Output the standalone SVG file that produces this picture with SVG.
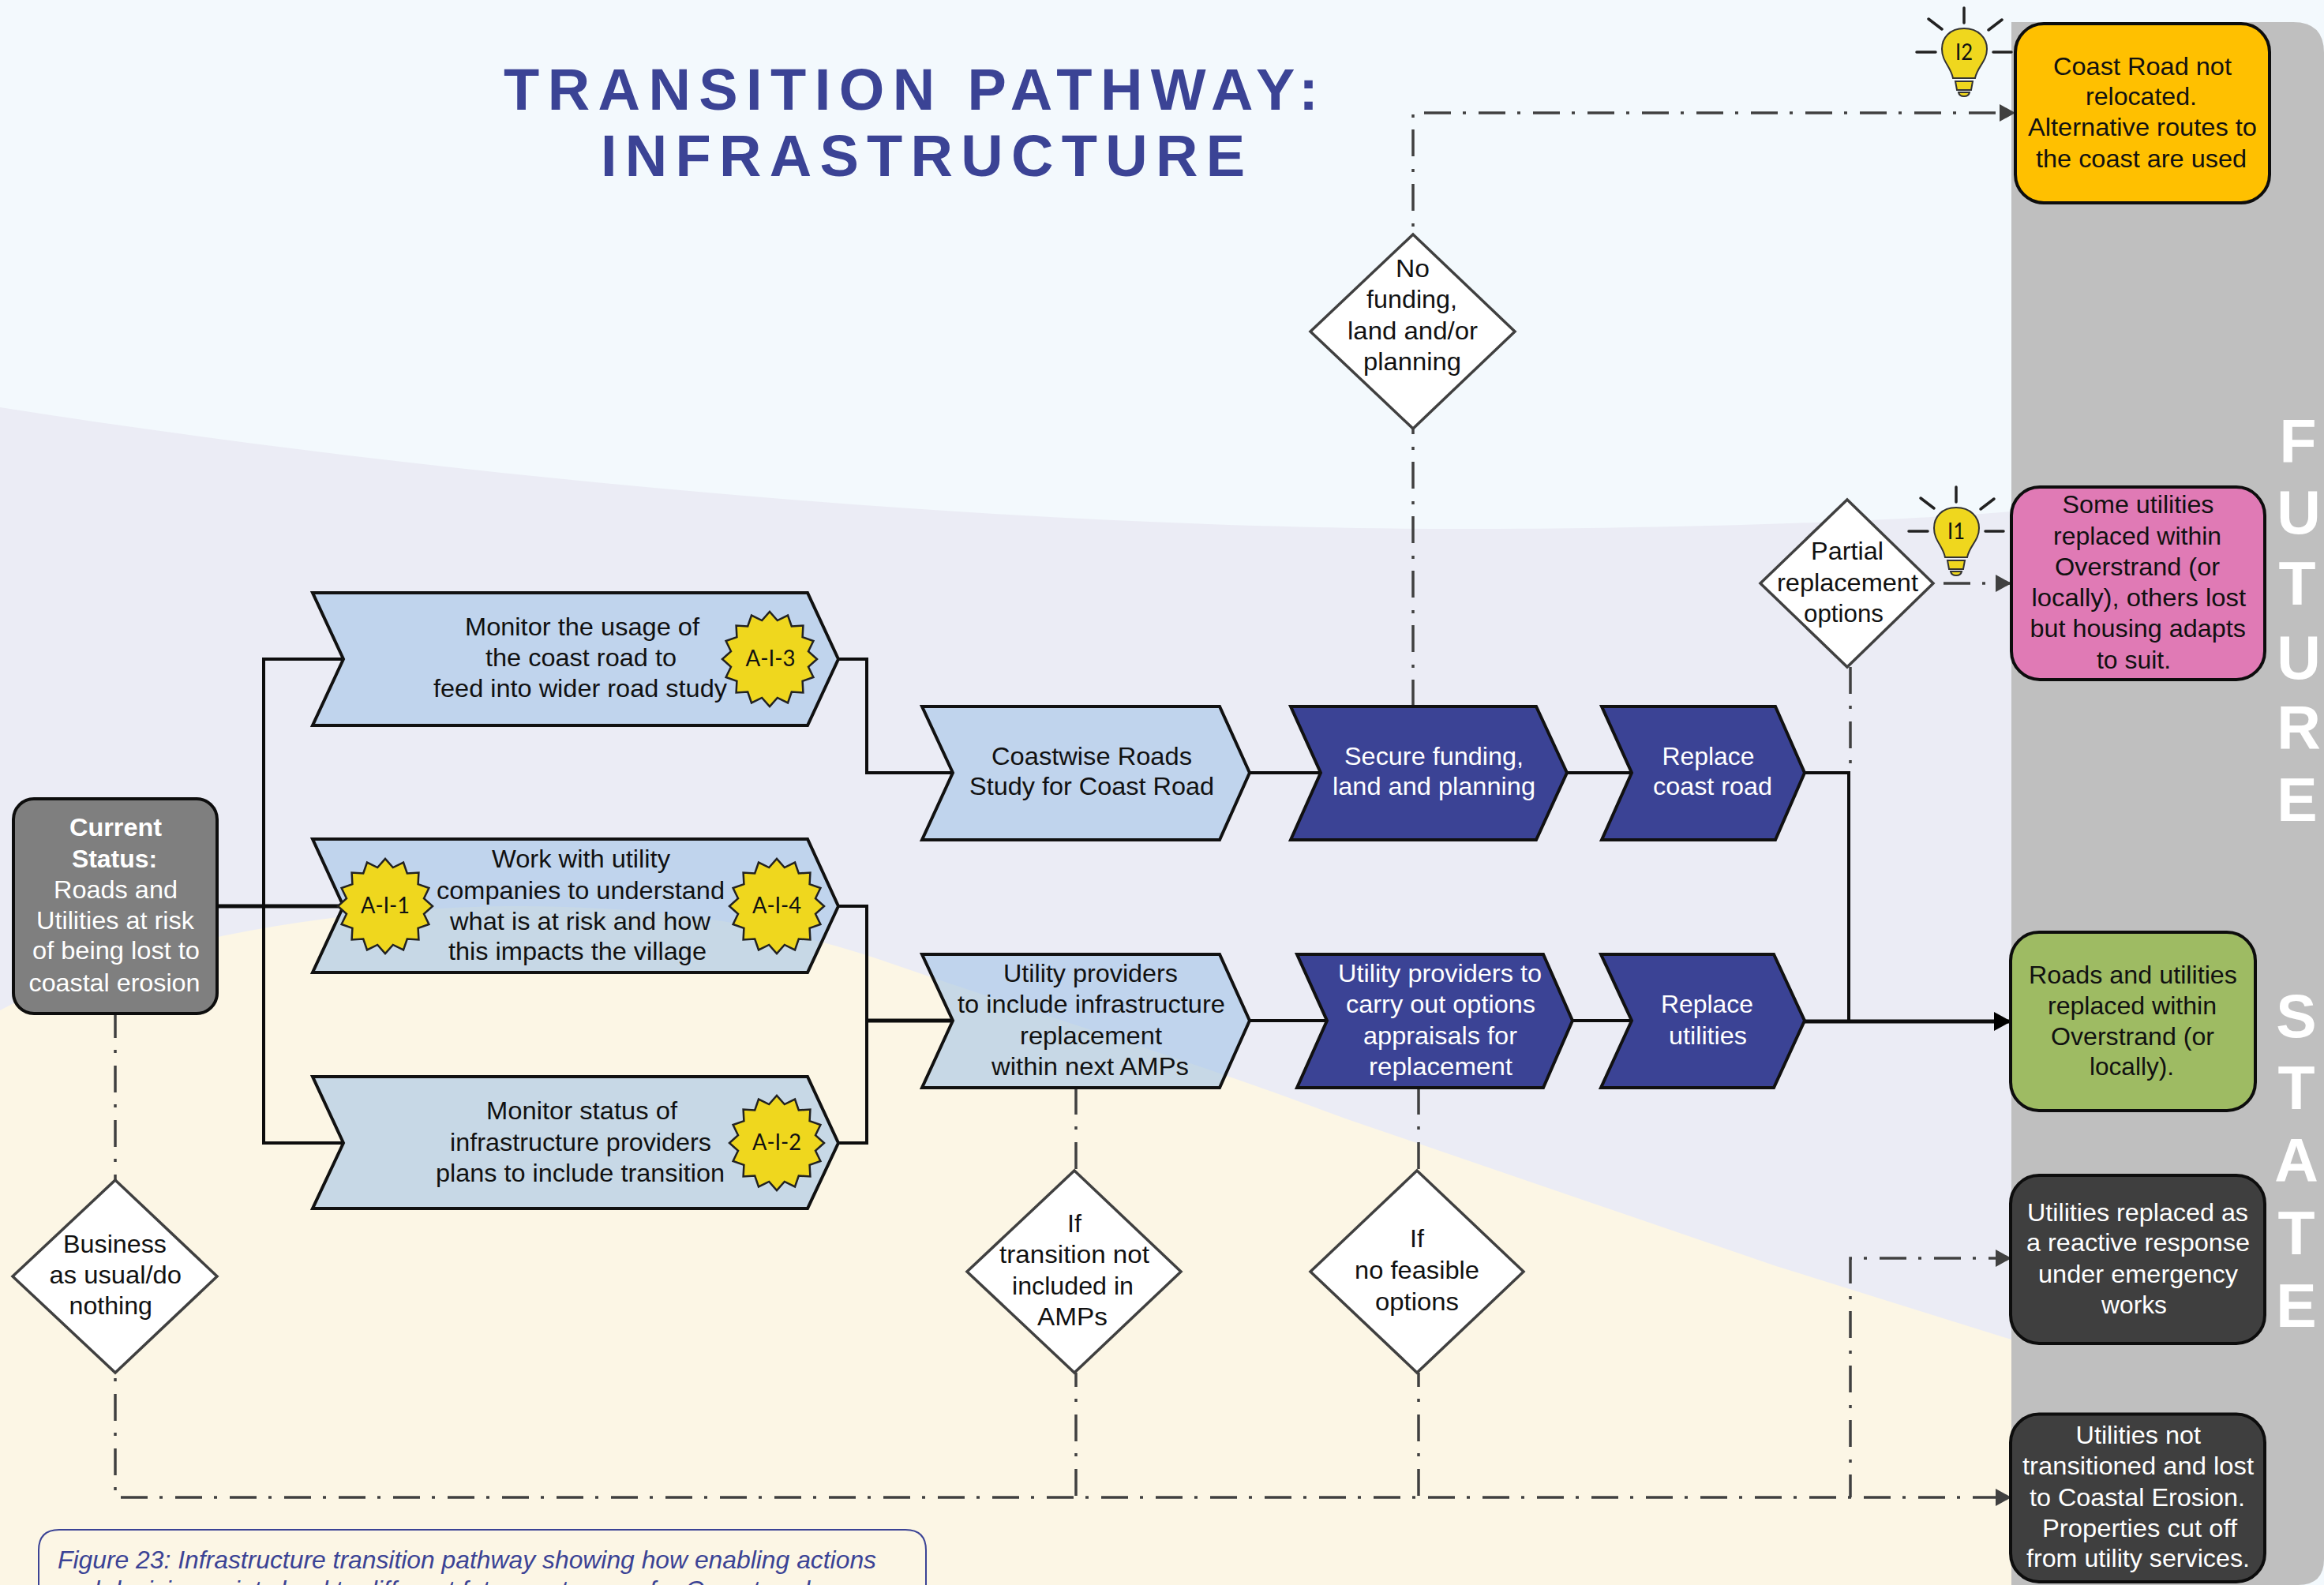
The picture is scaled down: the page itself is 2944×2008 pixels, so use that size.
<svg xmlns="http://www.w3.org/2000/svg" width="2944" height="2008" viewBox="0 0 2944 2008">
<style>
text{font-family:"Liberation Sans",Arial,sans-serif;font-size:31.5px;fill:#111}
.w{fill:#fff}
.b{font-weight:bold}
.title{font-weight:bold;font-size:74px;fill:#3b4395}
.state{font-weight:bold;font-size:77px;fill:#fff;text-anchor:middle}
.badge{font-family:Lato,"Liberation Sans",sans-serif;font-size:28px;fill:#111}
.cap{font-style:italic;font-size:30.5px;fill:#3b4395}
.solid{fill:none;stroke:#0d0d0d;stroke-width:4}
.dash{fill:none;stroke:#404040;stroke-width:3.5;stroke-dasharray:34 15 4 16}
.light{fill:#a1c3e7;fill-opacity:.58;stroke:#111;stroke-width:4}
.dark{fill:#3b4395;stroke:#111;stroke-width:4}
.box{stroke:#0d0d0d;stroke-width:4}
.dia{fill:#fff;stroke:#404040;stroke-width:3.5}
.star{fill:#efd71e;stroke:#222;stroke-width:2.5}
.ray{stroke:#222;stroke-width:3.5;stroke-linecap:round}
.bulb{fill:#efd71e;stroke:#333;stroke-width:2}
</style>
<defs>
<marker id="ag" markerUnits="userSpaceOnUse" markerWidth="20" markerHeight="22" refX="20" refY="11" orient="auto"><path d="M0,0L20,11L0,22Z" fill="#404040"/></marker>
<marker id="ak" markerUnits="userSpaceOnUse" markerWidth="22" markerHeight="24" refX="22" refY="12" orient="auto"><path d="M0,0L22,12L0,24Z" fill="#000"/></marker>
<polygon id="burst" class="star" points="60,0 49,9.8 55.4,23 41.6,27.8 42.4,42.4 27.8,41.6 23,55.4 9.8,49 0,60 -9.8,49 -23,55.4 -27.8,41.6 -42.4,42.4 -41.6,27.8 -55.4,23 -49,9.8 -60,0 -49,-9.8 -55.4,-23 -41.6,-27.8 -42.4,-42.4 -27.8,-41.6 -23,-55.4 -9.8,-49 0,-60 9.8,-49 23,-55.4 27.8,-41.6 42.4,-42.4 41.6,-27.8 55.4,-23 49,-9.8"/>
<g id="bulbicon">
<path class="ray" d="M2488,10V29M2428,66H2452M2525,66H2548M2443,24L2460,37M2536,25L2519,38"/>
<path class="bulb" d="M2488,36C2470,36 2460,48 2460,62C2460,78 2471,84 2474,99H2502C2505,84 2517,78 2517,62C2517,48 2506,36 2488,36Z"/>
<path class="bulb" d="M2477,103H2499L2497,114H2479Z"/>
<path class="bulb" d="M2481,117H2495Q2494,122 2488,122Q2482,122 2481,117Z"/>
</g>
</defs>

<g id="background">
<rect width="2944" height="2008" fill="#f3f9fd"/>
<path fill="#ebecf5" d="M0,516C600,610 1300,670 1850,670C2150,670 2400,660 2548,648V2008H0Z"/>
<path fill="#fcf6e5" d="M0,1280C150,1200 400,1150 650,1148C850,1148 1000,1175 1130,1221C1300,1280 1500,1340 1704,1417L2250,1604L2548,1697V2008H0Z"/>
<path fill="#bfbfbf" d="M2548,28H2905Q2944,28 2944,67V1975Q2944,2008 2911,2008H2548Z"/>
</g>

<g id="title">
<text class="title" x="638" y="139" textLength="1032">TRANSITION PATHWAY:</text>
<text class="title" x="761" y="223" textLength="816">INFRASTRUCTURE</text>
</g>

<g id="future-state">
<text class="state" x="2911" y="586">F</text>
<text class="state" x="2912" y="676">U</text>
<text class="state" x="2910" y="766">T</text>
<text class="state" x="2912" y="860">U</text>
<text class="state" x="2912" y="948">R</text>
<text class="state" x="2910" y="1040">E</text>
<text class="state" x="2909" y="1314">S</text>
<text class="state" x="2909" y="1405">T</text>
<text class="state" x="2909" y="1497">A</text>
<text class="state" x="2909" y="1589">T</text>
<text class="state" x="2909" y="1681">E</text>
</g>

<g id="connectors">
<path class="solid" d="M275,1148H435" style="stroke-width:5"/>
<path class="solid" d="M435,835H334V1448H435"/>
<path class="solid" d="M1062,835H1098V979H1207"/>
<path class="solid" d="M1062,1148H1098V1448H1062"/>
<path class="solid" d="M1098,1293H1207" style="stroke-width:5"/>
<path class="solid" d="M1583,979H1673"/>
<path class="solid" d="M1985,979H2067"/>
<path class="solid" d="M2285,979H2342V1293"/>
<path class="solid" d="M1583,1293H1681"/>
<path class="solid" d="M1992,1293H2067"/>
<path class="solid" d="M2285,1294H2548" style="stroke-width:5" marker-end="url(#ak)"/>
<path class="dash" style="stroke-dashoffset:3" d="M146,1284V1495"/>
<path class="dash" style="stroke-dashoffset:42" d="M146,1739V1897H2548" marker-end="url(#ag)"/>
<path class="dash" style="stroke-dashoffset:16" d="M1363,1739V1897"/>
<path class="dash" d="M1363,1378V1483"/>
<path class="dash" style="stroke-dashoffset:16" d="M1797,1739V1897"/>
<path class="dash" d="M1797,1378V1483"/>
<path class="dash" style="stroke-dashoffset:5" d="M2344,1897V1594H2548" marker-end="url(#ag)"/>
<path class="dash" d="M1790,895V543"/>
<path class="dash" style="stroke-dashoffset:39" d="M1790,297V143H2553" marker-end="url(#ag)"/>
<path class="dash" d="M2344,845V979"/>
<path class="dash" style="stroke-dashoffset:56" d="M2449,739H2548" marker-end="url(#ag)"/>
</g>

<g id="current-status">
<rect class="box" x="17" y="1012" width="258" height="272" rx="26" fill="#7f7f7f"/>
<text class="w b" x="88" y="1059" textLength="117" lengthAdjust="spacingAndGlyphs">Current</text>
<text class="w b" x="91" y="1099" textLength="108" lengthAdjust="spacingAndGlyphs">Status:</text>
<text class="w" x="68" y="1138" textLength="157" lengthAdjust="spacingAndGlyphs">Roads and</text>
<text class="w" x="46" y="1177" textLength="200" lengthAdjust="spacingAndGlyphs">Utilities at risk</text>
<text class="w" x="41" y="1215" textLength="212" lengthAdjust="spacingAndGlyphs">of being lost to</text>
<text class="w" x="36.5" y="1256" textLength="217" lengthAdjust="spacingAndGlyphs">coastal erosion</text>
</g>

<g id="action-a-i-3">
<polygon class="light" points="396,751 1023,751 1062,835 1023,919 396,919 435,835"/>
<text x="589" y="805" textLength="297" lengthAdjust="spacingAndGlyphs">Monitor the usage of</text>
<text x="615" y="844" textLength="242" lengthAdjust="spacingAndGlyphs">the coast road to</text>
<text x="549" y="883" textLength="372" lengthAdjust="spacingAndGlyphs">feed into wider road study</text>
<use href="#burst" x="975" y="835"/>
<text class="badge" x="944.5" y="844" textLength="63" lengthAdjust="spacingAndGlyphs">A-I-3</text>
</g>

<g id="action-a-i-1-4">
<polygon class="light" points="396,1063 1023,1063 1062,1148 1023,1232 396,1232 435,1148"/>
<text x="623" y="1099" textLength="226" lengthAdjust="spacingAndGlyphs">Work with utility</text>
<text x="553" y="1139" textLength="365" lengthAdjust="spacingAndGlyphs">companies to understand</text>
<text x="570" y="1178" textLength="330" lengthAdjust="spacingAndGlyphs">what is at risk and how</text>
<text x="568" y="1216" textLength="327" lengthAdjust="spacingAndGlyphs">this impacts the village</text>
<use href="#burst" x="488" y="1148"/>
<text class="badge" x="457" y="1157" textLength="62" lengthAdjust="spacingAndGlyphs">A-I-1</text>
<use href="#burst" x="984" y="1148"/>
<text class="badge" x="953" y="1157" textLength="62" lengthAdjust="spacingAndGlyphs">A-I-4</text>
</g>

<g id="action-a-i-2">
<polygon class="light" points="396,1364 1023,1364 1062,1448 1023,1531 396,1531 435,1448"/>
<text x="616" y="1418" textLength="242" lengthAdjust="spacingAndGlyphs">Monitor status of</text>
<text x="570" y="1457.5" textLength="331" lengthAdjust="spacingAndGlyphs">infrastructure providers</text>
<text x="552" y="1497" textLength="366" lengthAdjust="spacingAndGlyphs">plans to include transition</text>
<use href="#burst" x="984" y="1448"/>
<text class="badge" x="953" y="1457" textLength="62" lengthAdjust="spacingAndGlyphs">A-I-2</text>
</g>

<g id="coastwise-roads">
<polygon class="light" points="1168,895 1545,895 1583,979 1545,1064 1168,1064 1207,979"/>
<text x="1256" y="969" textLength="254" lengthAdjust="spacingAndGlyphs">Coastwise Roads</text>
<text x="1228" y="1007" textLength="310" lengthAdjust="spacingAndGlyphs">Study for Coast Road</text>
</g>
<g id="secure-funding">
<polygon class="dark" points="1635,895 1946,895 1985,979 1946,1064 1635,1064 1673,979"/>
<text class="w" x="1703" y="969" textLength="227" lengthAdjust="spacingAndGlyphs">Secure funding,</text>
<text class="w" x="1688" y="1007" textLength="257" lengthAdjust="spacingAndGlyphs">land and planning</text>
</g>
<g id="replace-coast-road">
<polygon class="dark" points="2029,895 2249,895 2286,979 2249,1064 2029,1064 2067,979"/>
<text class="w" x="2105.5" y="969" textLength="117" lengthAdjust="spacingAndGlyphs">Replace</text>
<text class="w" x="2094" y="1007" textLength="151" lengthAdjust="spacingAndGlyphs">coast road</text>
</g>
<g id="utility-providers">
<polygon class="light" points="1168,1209 1545,1209 1583,1293 1545,1378 1168,1378 1207,1293"/>
<text x="1271" y="1244" textLength="221" lengthAdjust="spacingAndGlyphs">Utility providers</text>
<text x="1213" y="1283" textLength="339" lengthAdjust="spacingAndGlyphs">to include infrastructure</text>
<text x="1292" y="1322.5" textLength="180" lengthAdjust="spacingAndGlyphs">replacement</text>
<text x="1256" y="1362" textLength="250" lengthAdjust="spacingAndGlyphs">within next AMPs</text>
</g>
<g id="options-appraisals">
<polygon class="dark" points="1643,1209 1955,1209 1992,1293 1955,1378 1643,1378 1681,1293"/>
<text class="w" x="1695" y="1244" textLength="258" lengthAdjust="spacingAndGlyphs">Utility providers to</text>
<text class="w" x="1705" y="1283" textLength="240" lengthAdjust="spacingAndGlyphs">carry out options</text>
<text class="w" x="1727" y="1322.5" textLength="195" lengthAdjust="spacingAndGlyphs">appraisals for</text>
<text class="w" x="1734" y="1362" textLength="182" lengthAdjust="spacingAndGlyphs">replacement</text>
</g>
<g id="replace-utilities">
<polygon class="dark" points="2028,1209 2247,1209 2286,1293 2247,1378 2028,1378 2067,1293"/>
<text class="w" x="2104" y="1283" textLength="117" lengthAdjust="spacingAndGlyphs">Replace</text>
<text class="w" x="2114" y="1322.5" textLength="99" lengthAdjust="spacingAndGlyphs">utilities</text>
</g>

<g id="decision-no-funding">
<polygon class="dia" points="1790,297 1919,420 1790,543 1660,420"/>
<text x="1768" y="351" textLength="43" lengthAdjust="spacingAndGlyphs">No</text>
<text x="1731" y="390" textLength="115" lengthAdjust="spacingAndGlyphs">funding,</text>
<text x="1707" y="430" textLength="165" lengthAdjust="spacingAndGlyphs">land and/or</text>
<text x="1727" y="469" textLength="124" lengthAdjust="spacingAndGlyphs">planning</text>
</g>
<g id="decision-partial">
<polygon class="dia" points="2340,633 2449,739 2340,845 2230,739"/>
<text x="2294" y="709" textLength="92" lengthAdjust="spacingAndGlyphs">Partial</text>
<text x="2251" y="749" textLength="179" lengthAdjust="spacingAndGlyphs">replacement</text>
<text x="2285" y="788" textLength="101" lengthAdjust="spacingAndGlyphs">options</text>
</g>
<g id="decision-business">
<polygon class="dia" points="146,1495 275,1617 146,1739 16,1617"/>
<text x="80" y="1587" textLength="131" lengthAdjust="spacingAndGlyphs">Business</text>
<text x="62.5" y="1626" textLength="167.5" lengthAdjust="spacingAndGlyphs">as usual/do</text>
<text x="87.5" y="1665" textLength="105.5" lengthAdjust="spacingAndGlyphs">nothing</text>
</g>
<g id="decision-transition">
<polygon class="dia" points="1361,1483 1496,1611 1361,1739 1225,1611"/>
<text x="1352" y="1561" textLength="18" lengthAdjust="spacingAndGlyphs">If</text>
<text x="1266" y="1600" textLength="190" lengthAdjust="spacingAndGlyphs">transition not</text>
<text x="1282" y="1640" textLength="154" lengthAdjust="spacingAndGlyphs">included in</text>
<text x="1314" y="1679" textLength="89" lengthAdjust="spacingAndGlyphs">AMPs</text>
</g>
<g id="decision-no-feasible">
<polygon class="dia" points="1795,1483 1930,1611 1795,1739 1660,1611"/>
<text x="1786" y="1580" textLength="18" lengthAdjust="spacingAndGlyphs">If</text>
<text x="1716" y="1620" textLength="158" lengthAdjust="spacingAndGlyphs">no feasible</text>
<text x="1742" y="1660" textLength="106" lengthAdjust="spacingAndGlyphs">options</text>
</g>

<g id="insight-i2">
<use href="#bulbicon"/>
<text class="badge" x="2477" y="76" textLength="22" lengthAdjust="spacingAndGlyphs">I2</text>
</g>
<g id="insight-i1">
<use href="#bulbicon" x="-10" y="607"/>
<text class="badge" x="2467" y="683" textLength="22" lengthAdjust="spacingAndGlyphs">I1</text>
</g>

<g id="outcome-i2">
<rect class="box" x="2553" y="30" width="322" height="227" rx="36" fill="#ffc000"/>
<text x="2601" y="95" textLength="226" lengthAdjust="spacingAndGlyphs">Coast Road not</text>
<text x="2642" y="133" textLength="141" lengthAdjust="spacingAndGlyphs">relocated.</text>
<text x="2569" y="172" textLength="290" lengthAdjust="spacingAndGlyphs">Alternative routes to</text>
<text x="2579" y="212" textLength="267" lengthAdjust="spacingAndGlyphs">the coast are used</text>
</g>
<g id="outcome-i1">
<rect class="box" x="2548" y="617" width="321" height="244" rx="36" fill="#e07ab5"/>
<text x="2612.5" y="650" textLength="192" lengthAdjust="spacingAndGlyphs">Some utilities</text>
<text x="2601" y="690" textLength="213" lengthAdjust="spacingAndGlyphs">replaced within</text>
<text x="2603" y="729" textLength="209" lengthAdjust="spacingAndGlyphs">Overstrand (or</text>
<text x="2573.5" y="768" textLength="271.5" lengthAdjust="spacingAndGlyphs">locally), others lost</text>
<text x="2571.5" y="806.5" textLength="273.5" lengthAdjust="spacingAndGlyphs">but housing adapts</text>
<text x="2656" y="847" textLength="94" lengthAdjust="spacingAndGlyphs">to suit.</text>
</g>
<g id="outcome-replaced">
<rect class="box" x="2547" y="1181" width="310" height="226" rx="36" fill="#9ebb63"/>
<text x="2570" y="1246" textLength="264" lengthAdjust="spacingAndGlyphs">Roads and utilities</text>
<text x="2594" y="1285" textLength="214" lengthAdjust="spacingAndGlyphs">replaced within</text>
<text x="2598" y="1323.5" textLength="207" lengthAdjust="spacingAndGlyphs">Overstrand (or</text>
<text x="2647" y="1362" textLength="107" lengthAdjust="spacingAndGlyphs">locally).</text>
</g>
<g id="outcome-reactive">
<rect class="box" x="2547" y="1489" width="322" height="213" rx="36" fill="#3f3f3f"/>
<text class="w" x="2568" y="1547" textLength="280" lengthAdjust="spacingAndGlyphs">Utilities replaced as</text>
<text class="w" x="2567" y="1585" textLength="283" lengthAdjust="spacingAndGlyphs">a reactive response</text>
<text class="w" x="2582" y="1624.5" textLength="253" lengthAdjust="spacingAndGlyphs">under emergency</text>
<text class="w" x="2662" y="1663.5" textLength="83" lengthAdjust="spacingAndGlyphs">works</text>
</g>
<g id="outcome-lost">
<rect class="box" x="2547" y="1791.5" width="322" height="212.5" rx="36" fill="#3f3f3f"/>
<text class="w" x="2629.5" y="1829" textLength="158.5" lengthAdjust="spacingAndGlyphs">Utilities not</text>
<text class="w" x="2562" y="1868" textLength="293" lengthAdjust="spacingAndGlyphs">transitioned and lost</text>
<text class="w" x="2571" y="1907.5" textLength="273" lengthAdjust="spacingAndGlyphs">to Coastal Erosion.</text>
<text class="w" x="2587" y="1947" textLength="247" lengthAdjust="spacingAndGlyphs">Properties cut off</text>
<text class="w" x="2567" y="1985" textLength="283" lengthAdjust="spacingAndGlyphs">from utility services.</text>
</g>

<g id="caption">
<path d="M49,2040V1964Q49,1938 75,1938H1147Q1173,1938 1173,1964V2040" fill="none" stroke="#3b4395" stroke-width="2"/>
<text class="cap" x="73" y="1987" textLength="1037" lengthAdjust="spacingAndGlyphs">Figure 23: Infrastructure transition pathway showing how enabling actions</text>
<text class="cap" x="73" y="2025" textLength="953" lengthAdjust="spacingAndGlyphs">and decision points lead to different future outcomes for Overstrand</text>
</g>
</svg>
